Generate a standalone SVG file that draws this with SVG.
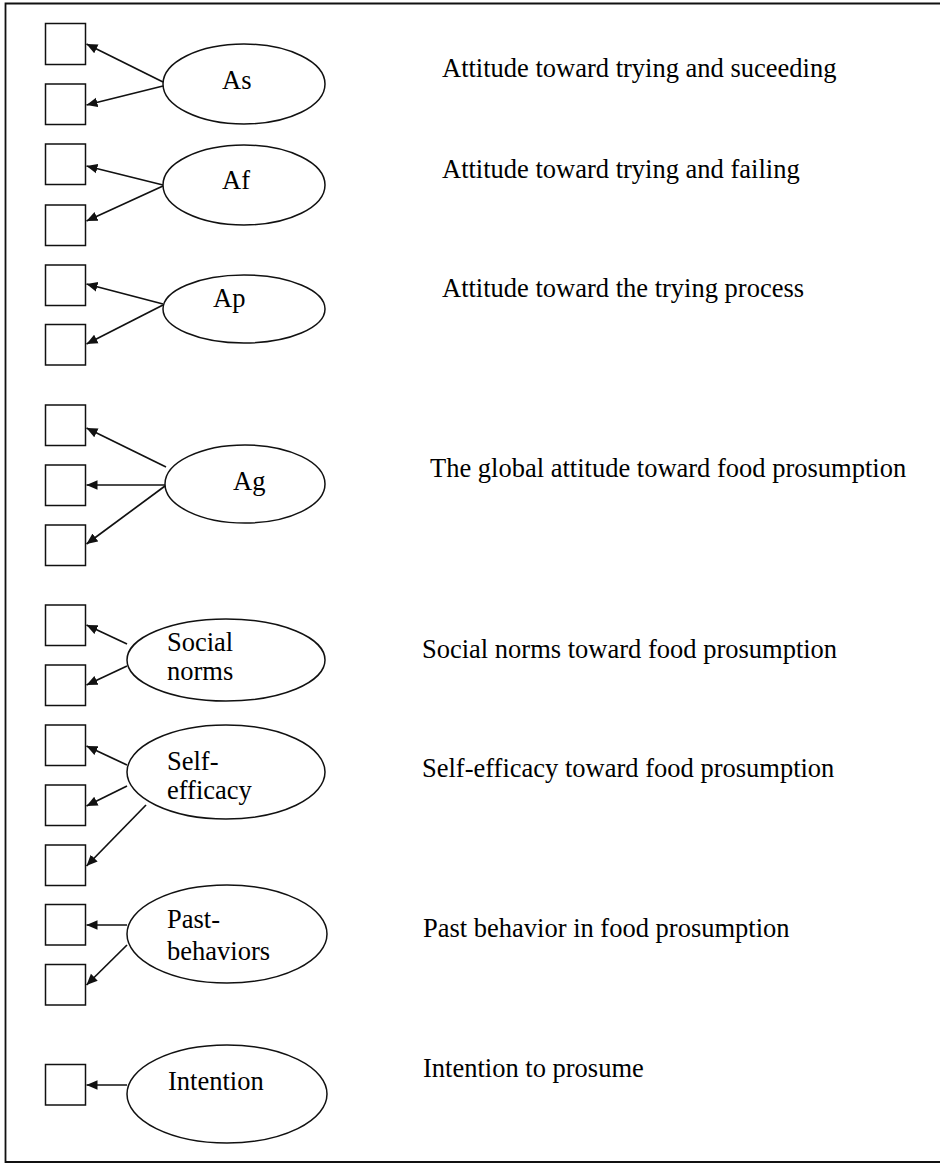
<svg xmlns="http://www.w3.org/2000/svg" width="940" height="1165" viewBox="0 0 940 1165">
  <style>
    .frame { fill: none; stroke: #111; stroke-width: 1.8; }
    .box { fill: #fff; stroke: #111; stroke-width: 1.5; }
    .latent { fill: #fff; stroke: #111; stroke-width: 1.5; }
    .edge { fill: none; stroke: #111; stroke-width: 1.7; marker-end: url(#arrow); }
    .lbl { font-family: "Liberation Serif", "Times New Roman", serif; font-size: 26.5px; fill: #000; }
  </style>
  <defs>
    <marker id="arrow" viewBox="0 0 10 10" refX="10" refY="5" markerWidth="11" markerHeight="11" markerUnits="userSpaceOnUse" orient="auto">
      <path d="M0,0.6 L10,5 L0,9.4 Z" fill="#111"/>
    </marker>
  </defs>
  <rect width="940" height="1165" fill="#fff"/>

  <!-- outer frame: top, left and bottom rules -->
  <path class="frame" d="M940,3.5 H5.5 V1162 H940"/>

  <!-- observed indicators -->
  <g id="indicators">
    <rect class="box" x="45.5" y="23.5" width="40" height="41"/>
    <rect class="box" x="45.5" y="84" width="40" height="40.5"/>
    <rect class="box" x="45.5" y="144" width="40" height="40.5"/>
    <rect class="box" x="45.5" y="205" width="40" height="40.5"/>
    <rect class="box" x="45.5" y="265" width="40" height="40.5"/>
    <rect class="box" x="45.5" y="324.5" width="40" height="40.5"/>
    <rect class="box" x="45.5" y="405" width="40" height="40.5"/>
    <rect class="box" x="45.5" y="465" width="40" height="40.5"/>
    <rect class="box" x="45.5" y="525" width="40" height="40.5"/>
    <rect class="box" x="45.5" y="605" width="40" height="40.5"/>
    <rect class="box" x="45.5" y="665" width="40" height="40.5"/>
    <rect class="box" x="45.5" y="725" width="40" height="40.5"/>
    <rect class="box" x="45.5" y="785" width="40" height="40.5"/>
    <rect class="box" x="45.5" y="845" width="40" height="40.5"/>
    <rect class="box" x="45.5" y="904.5" width="40" height="40.5"/>
    <rect class="box" x="45.5" y="964.5" width="40" height="40.5"/>
    <rect class="box" x="45.5" y="1064.5" width="40" height="40.5"/>
  </g>

  <!-- loadings from each construct to its items -->
  <g id="connectors">
    <line class="edge" x1="163" y1="82" x2="86.5" y2="44"/>
    <line class="edge" x1="163" y1="86" x2="86.5" y2="105"/>
    <line class="edge" x1="163" y1="185" x2="86.5" y2="166"/>
    <line class="edge" x1="163" y1="186" x2="86.5" y2="221"/>
    <line class="edge" x1="163" y1="304" x2="86.5" y2="284"/>
    <line class="edge" x1="163" y1="305" x2="86.5" y2="344"/>
    <line class="edge" x1="166" y1="467" x2="86.5" y2="428"/>
    <line class="edge" x1="165" y1="485" x2="86.5" y2="485"/>
    <line class="edge" x1="165" y1="486" x2="86.5" y2="544"/>
    <line class="edge" x1="127" y1="644" x2="86.5" y2="625"/>
    <line class="edge" x1="127" y1="666" x2="86.5" y2="685"/>
    <line class="edge" x1="127" y1="765" x2="86.5" y2="746"/>
    <line class="edge" x1="127" y1="786" x2="86.5" y2="806"/>
    <line class="edge" x1="146" y1="805" x2="86.5" y2="866"/>
    <line class="edge" x1="127" y1="925" x2="86.5" y2="925"/>
    <line class="edge" x1="127" y1="945" x2="86.5" y2="985"/>
    <line class="edge" x1="127" y1="1085" x2="86.5" y2="1085"/>
  </g>

  <!-- latent constructs -->
  <g id="node-as">
    <ellipse class="latent" cx="244" cy="84" rx="81" ry="40"/>
    <text class="lbl" x="222" y="89">As</text>
  </g>
  <g id="node-af">
    <ellipse class="latent" cx="244" cy="185" rx="81" ry="40"/>
    <text class="lbl" x="222" y="189">Af</text>
  </g>
  <g id="node-ap">
    <ellipse class="latent" cx="244" cy="309" rx="81" ry="34"/>
    <text class="lbl" x="213" y="307">Ap</text>
  </g>
  <g id="node-ag">
    <ellipse class="latent" cx="245" cy="484" rx="80" ry="39"/>
    <text class="lbl" x="233" y="490">Ag</text>
  </g>
  <g id="node-social">
    <ellipse class="latent" cx="226" cy="660" rx="99" ry="41"/>
    <text class="lbl" x="167" y="651">Social</text>
    <text class="lbl" x="167" y="680">norms</text>
  </g>
  <g id="node-self">
    <ellipse class="latent" cx="226" cy="772" rx="99" ry="47"/>
    <text class="lbl" x="167" y="770">Self-</text>
    <text class="lbl" x="167" y="799">efficacy</text>
  </g>
  <g id="node-past">
    <ellipse class="latent" cx="227" cy="934" rx="100" ry="49"/>
    <text class="lbl" x="167" y="928">Past-</text>
    <text class="lbl" x="167" y="960">behaviors</text>
  </g>
  <g id="node-intention">
    <ellipse class="latent" cx="227" cy="1094" rx="100" ry="49"/>
    <text class="lbl" x="168" y="1090">Intention</text>
  </g>

  <!-- construct descriptions -->
  <g id="descriptions">
    <text class="lbl" x="442" y="77">Attitude toward trying and suceeding</text>
    <text class="lbl" x="442" y="178">Attitude toward trying and failing</text>
    <text class="lbl" x="442" y="297">Attitude toward the trying process</text>
    <text class="lbl" x="430" y="477">The global attitude toward food prosumption</text>
    <text class="lbl" x="422" y="658">Social norms toward food prosumption</text>
    <text class="lbl" x="422" y="777">Self-efficacy toward food prosumption</text>
    <text class="lbl" x="423" y="937">Past behavior in food prosumption</text>
    <text class="lbl" x="423" y="1077">Intention to prosume</text>
  </g>
</svg>
